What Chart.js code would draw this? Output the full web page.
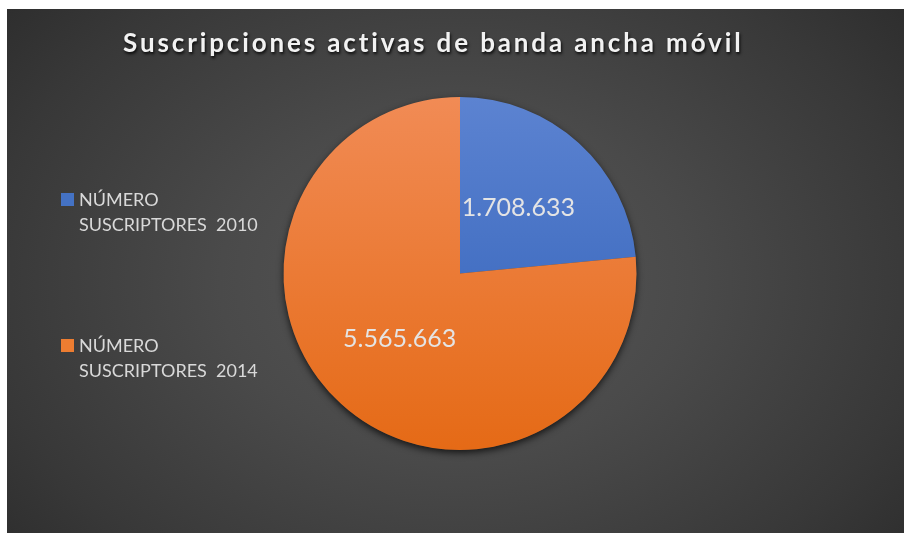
<!DOCTYPE html>
<html>
<head>
<meta charset="utf-8">
<script src="https://cdn.jsdelivr.net/npm/chart.js@4"></script>
<style>
  html, body { margin: 0; padding: 0; background: #ffffff; }
  #wrap {
    position: absolute; left: 7px; top: 9px; width: 897px; height: 524px;
    background: radial-gradient(ellipse 75% 95% at 50% 52%, #575757 0%, #4a4a4a 35%, #383838 70%, #262626 100%);
  }
  canvas { display: block; }
</style>
</head>
<body>
<div id="wrap"><canvas id="c" width="897" height="524"></canvas></div>
<script>
const titleText = 'Suscripciones activas de banda ancha móvil';
const categories = [['NÚMERO', 'SUSCRIPTORES  2010'], ['NÚMERO', 'SUSCRIPTORES  2014']];
const values = [1708633, 5565663];
const valueLabels = ['1.708.633', '5.565.663'];
const topColors = ['#5c83d1', '#f18b55'];
const bottomColors = ['#2d5eb6', '#e56a16'];

function sliceFill(ctx) {
  const chart = ctx.chart;
  const a = chart.chartArea;
  if (!a) return topColors[ctx.dataIndex];
  const g = chart.ctx.createLinearGradient(0, a.top, 0, a.bottom);
  g.addColorStop(0, topColors[ctx.dataIndex]);
  g.addColorStop(1, bottomColors[ctx.dataIndex]);
  return g;
}

const decor = {
  id: 'decor',
  beforeDatasetsDraw(chart) {
    const c = chart.ctx;
    const meta = chart.getDatasetMeta(0);
    const arc = meta.data[0];
    if (!arc) return;
    c.save();
    c.shadowColor = 'rgba(0,0,0,0.7)';
    c.shadowBlur = 7;
    c.shadowOffsetY = 3;
    c.fillStyle = '#444';
    c.beginPath();
    c.arc(arc.x, arc.y, arc.outerRadius, 0, Math.PI * 2);
    c.fill();
    c.restore();
  },
  afterDraw(chart) {
    const c = chart.ctx;
    // title
    c.save();
    c.font = 'bold 26px Lato';
    const w = c.measureText(titleText).width;
    const target = 618;
    const sp = (target - w) / (titleText.length - 1);
    c.letterSpacing = sp.toFixed(2) + 'px';
    c.textAlign = 'left';
    c.textBaseline = 'alphabetic';
    c.shadowColor = 'rgba(0,0,0,0.85)';
    c.shadowBlur = 3;
    c.shadowOffsetX = 1;
    c.shadowOffsetY = 2;
    c.fillStyle = '#f2f2f2';
    c.fillText(titleText, 123 - 7, 52 - 9);
    c.restore();

    // legend
    c.save();
    c.font = '18px Lato';
    c.textBaseline = 'alphabetic';
    const ys = [206 - 9, 352 - 9];
    categories.forEach((lines, i) => {
      const y = ys[i];
      c.fillStyle = i === 0 ? '#4472c4' : '#ed7d31';
      c.fillRect(61 - 7, y - 13, 13, 13);
      c.fillStyle = '#d9d9d9';
      lines.forEach((t, k) => {
        c.fillText(t, 79 - 7, y + k * 25);
      });
    });
    c.restore();

    // value labels
    const meta = chart.getDatasetMeta(0);
    c.save();
    c.font = '25px Lato';
    c.fillStyle = '#e4e4e4';
    c.textAlign = 'center';
    c.textBaseline = 'middle';
    meta.data.forEach((arc, i) => {
      const p = arc.getCenterPoint();
      c.fillText(valueLabels[i], p.x - 1, p.y);
    });
    c.restore();
  }
};

new Chart(document.getElementById('c'), {
  type: 'pie',
  data: {
    labels: categories.map(l => l.join(' ')),
    datasets: [{
      data: values,
      backgroundColor: sliceFill,
      borderWidth: 0,
      hoverOffset: 0
    }]
  },
  options: {
    responsive: false,
    animation: false,
    events: [],
    layout: { padding: { top: 88, bottom: 83, left: 276, right: 267 } },
    plugins: {
      legend: { display: false },
      title: { display: false },
      tooltip: { enabled: false }
    }
  },
  plugins: [decor]
});
</script>
</body>
</html>
